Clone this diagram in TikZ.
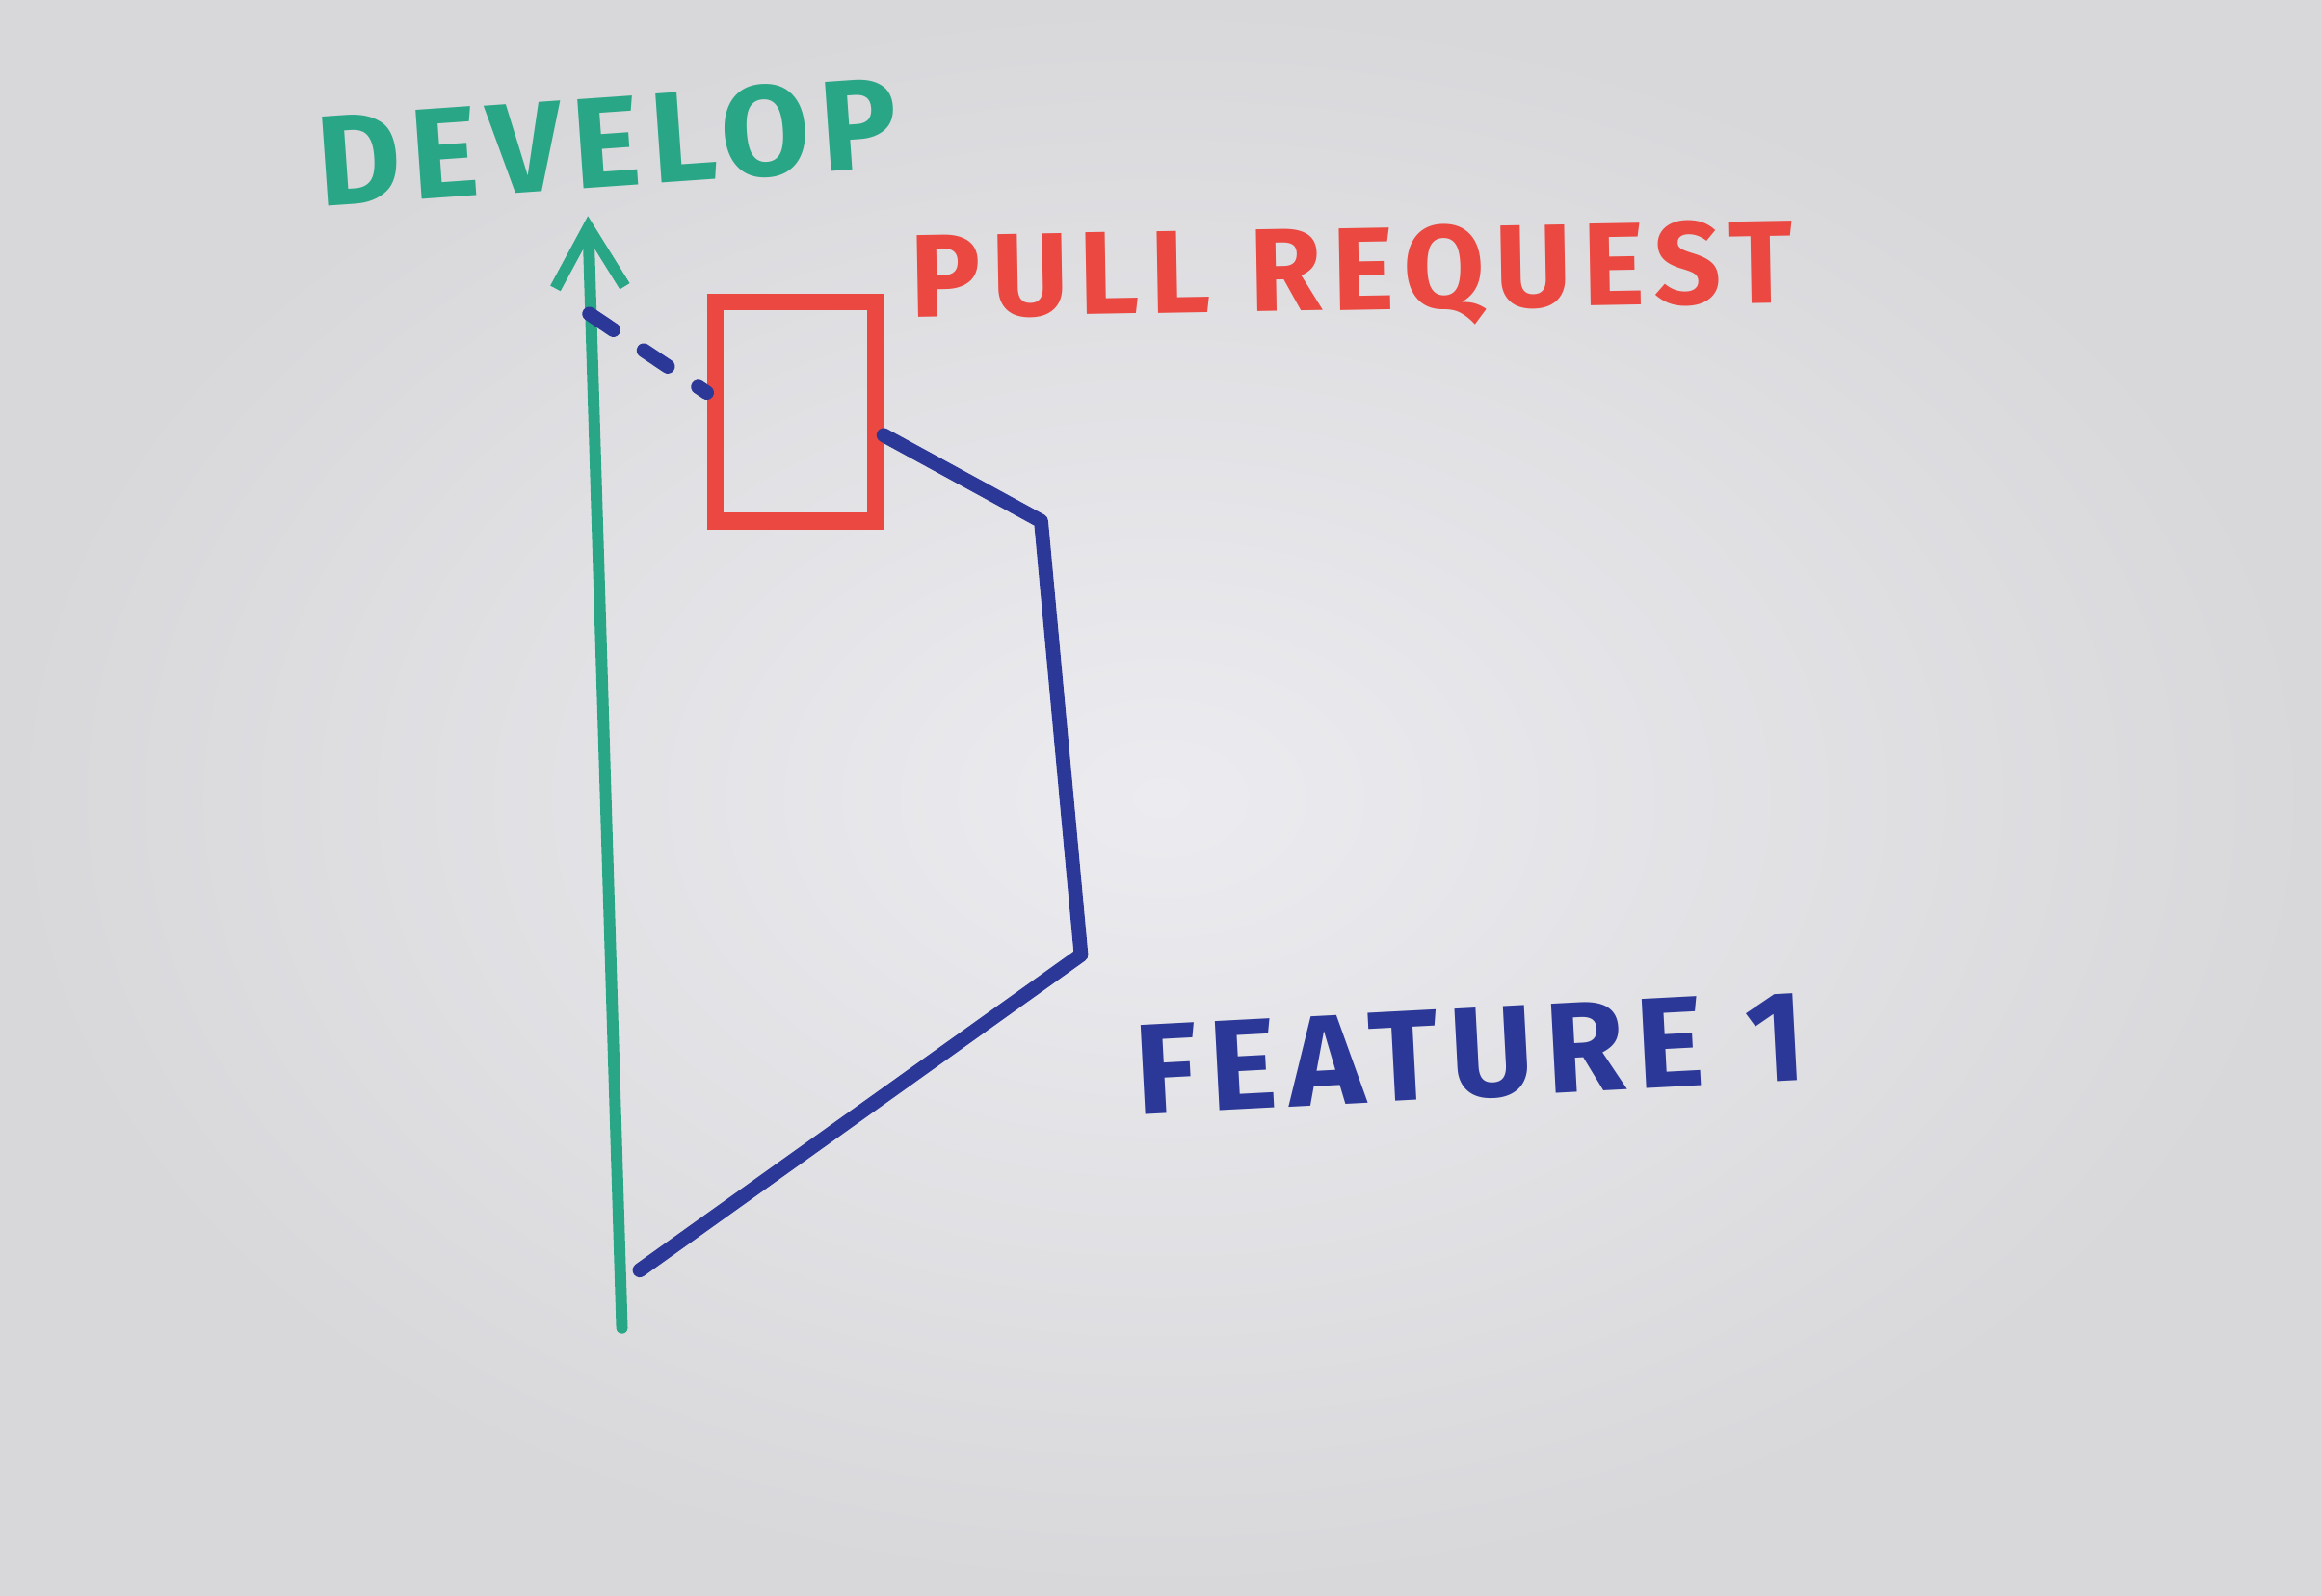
\documentclass[tikz,border=0pt]{standalone}
\usepackage{fontspec}
\newfontfamily\handschrift{Fira Sans}
\usepackage{tikz}
\usetikzlibrary{arrows.meta,calc,positioning}
\definecolor{papier}{RGB}{236,236,240}
\definecolor{papierrand}{RGB}{216,215,218}
\definecolor{develgruen}{RGB}{40,166,134}
\definecolor{prrot}{RGB}{234,72,64}
\definecolor{featblau}{RGB}{44,56,152}
\tikzset{
  stift/.style={line width=4.2pt,line cap=round,line join=round},
  beschriftung/.style={inner sep=0pt,anchor=center},
}

\begin{document}
\begin{tikzpicture}[x=0.01537cm,y=-0.01537cm]
%Koordinaten wie im Foto (1568x1078), y nach unten
  \pgfmathsetmacro{\B}{1568}
  \pgfmathsetmacro{\H}{1078}
  \pgfmathsetmacro{\prB}{108*0.01537}
  \pgfmathsetmacro{\prH}{148*0.01537}
\shade[inner color=papier,outer color=papierrand] (0,0) rectangle (\B,\H);
\useasboundingbox (0,0) rectangle (\B,\H);
%Develop
\coordinate (devunten) at (420,897);
\coordinate (devoben) at (397,146);
\coordinate (abzweig) at (398,212);
\draw[stift,line width=3.4pt,develgruen,-{Straight Barb[length=0.62cm,width=0.72cm,line width=3.4pt]}] (devunten) -- (devoben);
\node[beschriftung,text=develgruen,rotate=4,font=\handschrift\bfseries\fontsize{38}{38}\selectfont\addfontfeature{LetterSpace=8}] (develop) at (410,96) {DEVELOP};
%Pull Request
\node[draw=prrot,line width=5pt,minimum width=\prB cm,minimum height=\prH cm,inner sep=0pt] (pr) at (537,278) {};
\node[beschriftung,text=prrot,rotate=1,font=\handschrift\bfseries\fontsize{34.8}{35}\selectfont\addfontfeature{LetterSpace=9}] (prtext) at (913,187) {PULL REQUEST};
%Feature 1
\coordinate (knick) at (703,352);
\coordinate (ecke) at (730,645);
\coordinate (start) at (432,858);
\draw[stift,featblau,dash pattern=on 0.3cm off 0.38cm] (abzweig) -- ($(pr.north west)!0.42!(pr.south west)$);
\draw[stift,featblau] ($(pr.north east)!0.6!(pr.south east)$) -- (knick) -- (ecke) -- (start);
\node[beschriftung,text=featblau,rotate=3,font=\handschrift\bfseries\fontsize{38}{38}\selectfont\addfontfeature{LetterSpace=9}] (feature) at (993,712) {FEATURE 1};
\end{tikzpicture}
\end{document}
